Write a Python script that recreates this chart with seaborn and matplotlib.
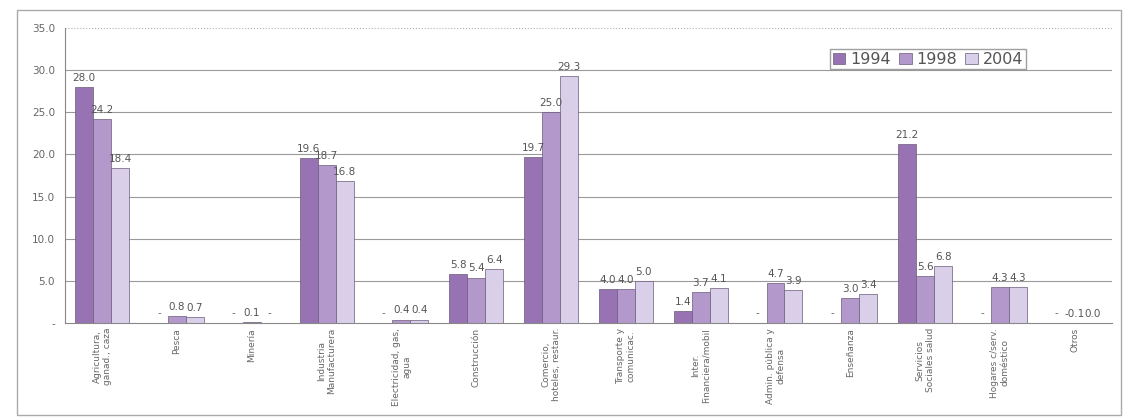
import numpy as np
import pandas as pd
import seaborn as sns
import matplotlib.pyplot as plt
from matplotlib.patches import Rectangle

# Sectores y participación por año (%)
sectores = ['Agricultura,\nganad., caza', 'Pesca', 'Minería', 'Industria\nManufacturera',
            'Electricidad, gas,\nagua', 'Construcción', 'Comercio,\nhoteles, restaur.',
            'Transporte y\ncomunicac.', 'Inter.\nFinanciera/mobil', 'Admin. pública y\ndefensa',
            'Enseñanza', 'Servicios\nSociales salud', 'Hogares c/serv.\ndoméstico', 'Otros']
anios = ['1994', '1998', '2004']
v1994 = [28.0, np.nan, np.nan, 19.6, np.nan, 5.8, 19.7, 4.0, 1.4, np.nan, np.nan, 21.2, np.nan, np.nan]
v1998 = [24.2, 0.8, 0.1, 18.7, 0.4, 5.4, 25.0, 4.0, 3.7, 4.7, 3.0, 5.6, 4.3, -0.1]
v2004 = [18.4, 0.7, np.nan, 16.8, 0.4, 6.4, 29.3, 5.0, 4.1, 3.9, 3.4, 6.8, 4.3, 0.0]
colores = ['#9868bf', '#b38fd4', '#dacbec']

df = pd.DataFrame({
    'sector': sectores * 3,
    'anio': [a for a in anios for _ in sectores],
    'valor': v1994 + v1998 + v2004,
})

sns.set_style('white')
plt.rcParams['font.family'] = ['DejaVu Sans']

fig = plt.figure(figsize=(11.36, 4.19), dpi=100)
ax = fig.add_axes([0.057, 0.229, 0.922, 0.704])

ancho = 0.72
sns.barplot(data=df, x='sector', y='valor', hue='anio', palette=colores,
            width=ancho, edgecolor='#6a5a7a', linewidth=0.5, ax=ax, legend=True)

# etiquetas de valores ("-" cuando no hay dato)
paso = ancho / len(anios)
for j, vals in enumerate([v1994, v1998, v2004]):
    for i, v in enumerate(vals):
        x = i + (j - 1) * paso
        if np.isnan(v):
            ax.text(x, 0.6, '-', ha='center', va='bottom', fontsize=7.5, color='#666666')
        else:
            ax.text(x, max(v, 0) + 0.5, f'{v:.1f}', ha='center', va='bottom',
                    fontsize=7.5, color='#555555')

ax.set_ylim(0, 35)
ax.set_xlim(-0.5, len(sectores) - 0.5)
ax.set_yticks(np.arange(0, 36, 5))
ax.set_yticklabels(['-'] + [f'{t:.1f}' for t in np.arange(5, 36, 5)], fontsize=7.5, color='#666666')
ax.tick_params(axis='x', labelrotation=90, labelsize=6.5, labelcolor='#666666', length=0)
ax.set_xlabel('')
ax.set_ylabel('')

for y in range(5, 31, 5):
    ax.axhline(y, color='#9a9a9a', linewidth=0.8, zorder=0)
ax.axhline(35, color='#b0b0b0', linewidth=0.8, linestyle=':', zorder=0)
ax.set_axisbelow(True)

for s in ['top', 'right']:
    ax.spines[s].set_visible(False)
ax.spines['left'].set_color('#888888')
ax.spines['bottom'].set_color('#888888')

leg = ax.legend(loc='upper right', bbox_to_anchor=(0.925, 0.955), ncol=3, fontsize=11.5,
                frameon=True, fancybox=False, edgecolor='#888888', handlelength=0.8,
                handletextpad=0.3, columnspacing=0.5, borderpad=0.15)
for t in leg.get_texts():
    t.set_color('#555555')

# marco exterior
fig.patches.append(Rectangle((0.015, 0.01), 0.972, 0.965, transform=fig.transFigure,
                             fill=False, edgecolor='#aaaaaa', linewidth=1.0))

fig.savefig('out.png', dpi=100)
